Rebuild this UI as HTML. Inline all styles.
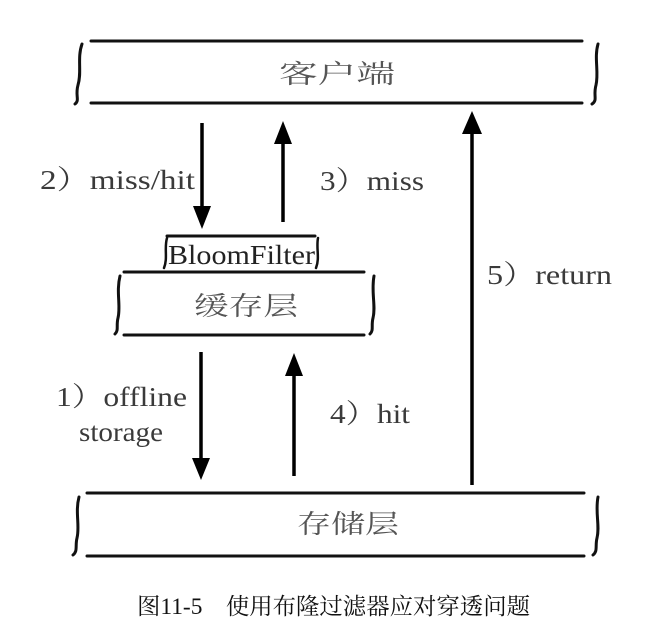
<!DOCTYPE html>
<html><head><meta charset="utf-8"><style>
html,body{margin:0;padding:0;background:#fff;}
svg{display:block}
.t{font-family:"Liberation Serif","Noto Serif CJK SC",serif;fill:#3a3a3a;font-size:27px}
.c{font-family:"Noto Serif CJK SC","WenQuanYi Zen Hei",serif;fill:#555;font-size:26px}
</style></head><body>
<svg width="671" height="643" viewBox="0 0 671 643">
<g stroke="#111" stroke-width="3" fill="none" stroke-linecap="round">
<line x1="91" y1="41" x2="582" y2="41"/><line x1="91" y1="103" x2="582" y2="103"/>
<path d="M82,44 C77,58 82,72 78,85 C75,96 80,100 75,104"/>
<path d="M598,44 C594,58 599,72 596,85 C593,96 598,100 592,104"/>
<line x1="167" y1="236" x2="315" y2="236"/>
<path d="M167,238 C164,248 168,258 164,268" stroke-width="2.5"/>
<path d="M318,238 C316,248 320,258 316,268" stroke-width="2.5"/>
<line x1="124" y1="272" x2="364" y2="272"/><line x1="124" y1="335" x2="364" y2="335"/>
<path d="M120,276 C116,292 121,306 118,318 C116,326 119,330 115,334"/>
<path d="M374,276 C371,292 376,306 373,318 C371,326 374,330 370,334"/>
<line x1="87" y1="493" x2="584" y2="493"/><line x1="87" y1="556" x2="584" y2="556"/>
<path d="M79,497 C75,512 80,526 77,538 C75,546 78,551 73,555"/>
<path d="M598,497 C595,512 600,526 597,538 C595,546 598,551 593,555"/>
</g>
<g stroke="#000" stroke-width="3.5">
<line x1="202" y1="123" x2="202" y2="210"/><path d="M193,206 L211,206 L202,229 z" fill="#000" stroke-width="0"/>
<line x1="283" y1="222" x2="283" y2="140"/><path d="M274,144 L292,144 L283,121 z" fill="#000" stroke-width="0"/>
<line x1="472" y1="485" x2="472" y2="130"/><path d="M462,134 L482,134 L472,111 z" fill="#000" stroke-width="0"/>
<line x1="201" y1="352" x2="201" y2="462"/><path d="M192,458 L210,458 L201,480 z" fill="#000" stroke-width="0"/>
<line x1="294" y1="476" x2="294" y2="372"/><path d="M285,376 L303,376 L294,353 z" fill="#000" stroke-width="0"/>
</g>
<text class="c" x="279" y="83" textLength="116" lengthAdjust="spacingAndGlyphs">客户端</text>
<text class="c" x="194" y="315" textLength="104" lengthAdjust="spacingAndGlyphs">缓存层</text>
<text class="c" x="297" y="533" textLength="102" lengthAdjust="spacingAndGlyphs">存储层</text>
<text class="t" x="168" y="264" textLength="147" lengthAdjust="spacingAndGlyphs" style="fill:#222">BloomFilter</text>
<text class="t" x="40" y="189" textLength="155" lengthAdjust="spacingAndGlyphs">2）miss/hit</text>
<text class="t" x="320" y="190" textLength="104" lengthAdjust="spacingAndGlyphs">3）miss</text>
<text class="t" x="487" y="284" textLength="125" lengthAdjust="spacingAndGlyphs">5）return</text>
<text class="t" x="56" y="406" textLength="131" lengthAdjust="spacingAndGlyphs">1）offline</text>
<text class="t" x="79" y="441" textLength="84" lengthAdjust="spacingAndGlyphs">storage</text>
<text class="t" x="330" y="423" textLength="80" lengthAdjust="spacingAndGlyphs">4）hit</text>
<text x="137" y="614" textLength="393" lengthAdjust="spacingAndGlyphs" style="font-family:'Liberation Serif','Noto Serif CJK SC',serif;font-size:23px;fill:#111">图11-5　使用布隆过滤器应对穿透问题</text>
</svg>
</body></html>
